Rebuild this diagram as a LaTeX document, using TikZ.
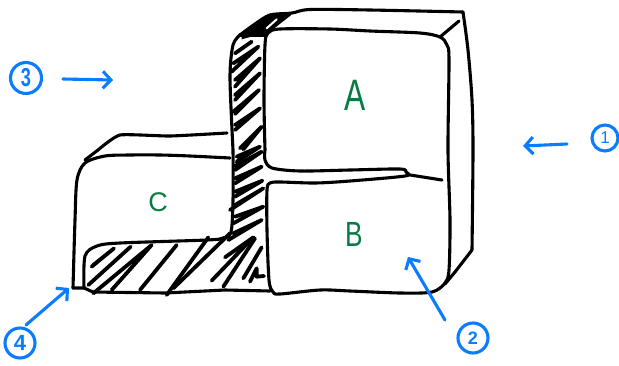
\documentclass[tikz,border=0pt]{standalone}
\usepackage{graphicx}
\usepackage{fontspec}
\setmainfont{Liberation Sans}
\usetikzlibrary{arrows.meta}
\definecolor{penblue}{HTML}{0A7CFF}
\definecolor{pengreen}{HTML}{0A7A45}
\tikzset{
  ink/.style={draw=black,line width=3.1pt,line cap=round,line join=round},
  hatch/.style={draw=black,line width=3.8pt,line cap=round,line join=round},
  fine/.style={x=.33333pt,y=-.33333pt},
  pointer/.style={draw=penblue,line width=3.1pt,line cap=round,line join=round,
     -{Straight Barb[length=8pt,width=17pt,line width=3.1pt]}},
  numeral/.style={circle,draw=penblue,line width=3.1pt,text=penblue,inner sep=0pt,
     minimum size=#1},
  letter/.style={text=pengreen,inner sep=0pt}
}
\begin{document}
\begin{tikzpicture}[x=1pt,y=-1pt]
\useasboundingbox (0,0) rectangle (619,365);
% outer shell
\draw[ink] plot[smooth,tension=.5] coordinates {(240,35)(255,24)(270,15)(292,13)(310,9.5)(370,10)(463,12)};
\draw[ink] plot[smooth,tension=.5] coordinates {(463,12)(468,50)(472,100)(473,150)(472,250)};
\draw[ink] (472,250) -- (455,272) -- (445,284);
% box A and B
\draw[ink] plot[smooth,tension=.5] coordinates {(265,150)(264,100)(265,45)(268,33)(280,29)(330,29)(370,31)(420,33)(440,37)(447,45)(449,60)(448,150)(450,220)(449,270)(445,283)(432,292)(400,293)(350,291)(320,290)(280,294)(273,292)(269,280)(267,230)(267,190)(270,183)(280,182)(315,183)(350,181)(405,176)(406,172)(400,169)(350,170)(300,171)(272,168)(265,160)(265,150)};
\draw[ink] (440,37) -- (459,21);
\draw[ink] (407,174.5) -- (442,180);
% stepped left part
\draw[ink] plot[smooth,tension=.5] coordinates {(240,35)(233,45)(230,75)(232,130)(233,150)(233,200)(231,232)(223,238)(207,240)(120,243)(97,246)(85,256)(84,288)};
\draw[ink] (240,35) -- (265,35);
\draw[ink] plot[smooth,tension=.3] coordinates {(98,150)(120,135)(170,136)(227,133)};
\draw[ink] (85,160) -- (98,150);
\draw[ink] plot[smooth,tension=.5] coordinates {(230,158)(190,156)(160,155)(130,155)(105,156)(85,163)(77,180)(75,220)(73,288)};
\draw[ink] (73,288) -- (84,288) -- (93,292) -- (165,293) -- (225,290) -- (270,291);
% hatching, column (upper)
\begin{scope}[fine,shift={(60pt,0pt)}]
\draw[hatch] (525,160)--(575,125);
\draw[hatch] (515,215)--(595,140)--(520,190);
\draw[hatch] (525,260)--(600,175)--(525,240);
\draw[hatch] (525,300)--(600,220)--(525,285);
\draw[hatch] (520,335)--(597,270)--(525,342);
\draw[hatch] (525,390)--(600,325)--(525,375);
\draw[hatch] (540,445)--(605,380)--(550,448);
\fill[black] (545,105)--(625,42)--(690,42)--(610,100)--(545,118)--cycle;
\draw[line width=2pt,white,line cap=round] (620,85)--(650,58);
\draw[ink] (610,105)--(690,42);
\end{scope}
% hatching, column (lower) and floor
\begin{scope}[fine,shift={(60pt,-150pt)}]
\draw[hatch] (530,20)--(600,-10)--(530,35);
\draw[hatch] (525,60)--(605,5)--(525,48);
\draw[hatch] (525,100)--(605,50)--(525,85);
\draw[hatch] (525,140)--(607,92)--(525,125);
\draw[hatch] (510,180)--(610,115)--(525,165);
\draw[hatch] (520,220)--(610,170)--(525,200);
\draw[hatch] (505,270)--(605,210)--(520,250);
\draw[hatch] (455,392)--(580,262)--(495,322);
\draw[hatch] (490,410)--(585,265);
\draw[hatch] (550,385)--(605,292);
\draw[hatch] (570,395)--(590,355)--(590,380)--(612,378);
\draw[hatch] (95,350)--(162,295)--(100,345);
\draw[hatch] (85,405)--(212,290);
\draw[hatch] (100,430)--(275,285)--(155,420);
\draw[hatch] (240,420)--(350,285);
\draw[hatch] (320,435)--(445,262);
\draw[hatch] (340,415)--(510,250);
\end{scope}
% labels
\node[letter] (a) at (355,95) {\fontsize{44}{44}\selectfont\scalebox{.72}[1]{A}};
\node[letter] (b) at (354,234) {\fontsize{35}{35}\selectfont\scalebox{.75}[1]{B}};
\node[letter] (c) at (158,202) {\fontsize{27}{27}\selectfont C};
\node[numeral=26pt] (n1) at (605,138) {\fontsize{17}{17}\selectfont 1};
\node[numeral=30pt] (n2) at (473,338) {\fontsize{18}{18}\selectfont\bfseries 2};
\node[numeral=31pt] (n3) at (26,78) {\fontsize{26}{26}\selectfont\bfseries\scalebox{.7}[1]{3}};
\node[numeral=30pt] (n4) at (20,343) {\fontsize{22}{22}\selectfont\bfseries 4};
% pointers
\coordinate (s1) at (567,144); \coordinate (e1) at (523,146);
\coordinate (s2) at (445,320); \coordinate (e2) at (408,257);
\coordinate (s3) at (63,79);   \coordinate (e3) at (113,80);
\coordinate (s4) at (26,325);  \coordinate (e4) at (69,288);
\draw[pointer] (s1) -- (e1);
\draw[pointer] (s2) -- (e2);
\draw[pointer] (s3) -- (e3);
\draw[pointer] (s4) -- (e4);
\end{tikzpicture}
\end{document}
